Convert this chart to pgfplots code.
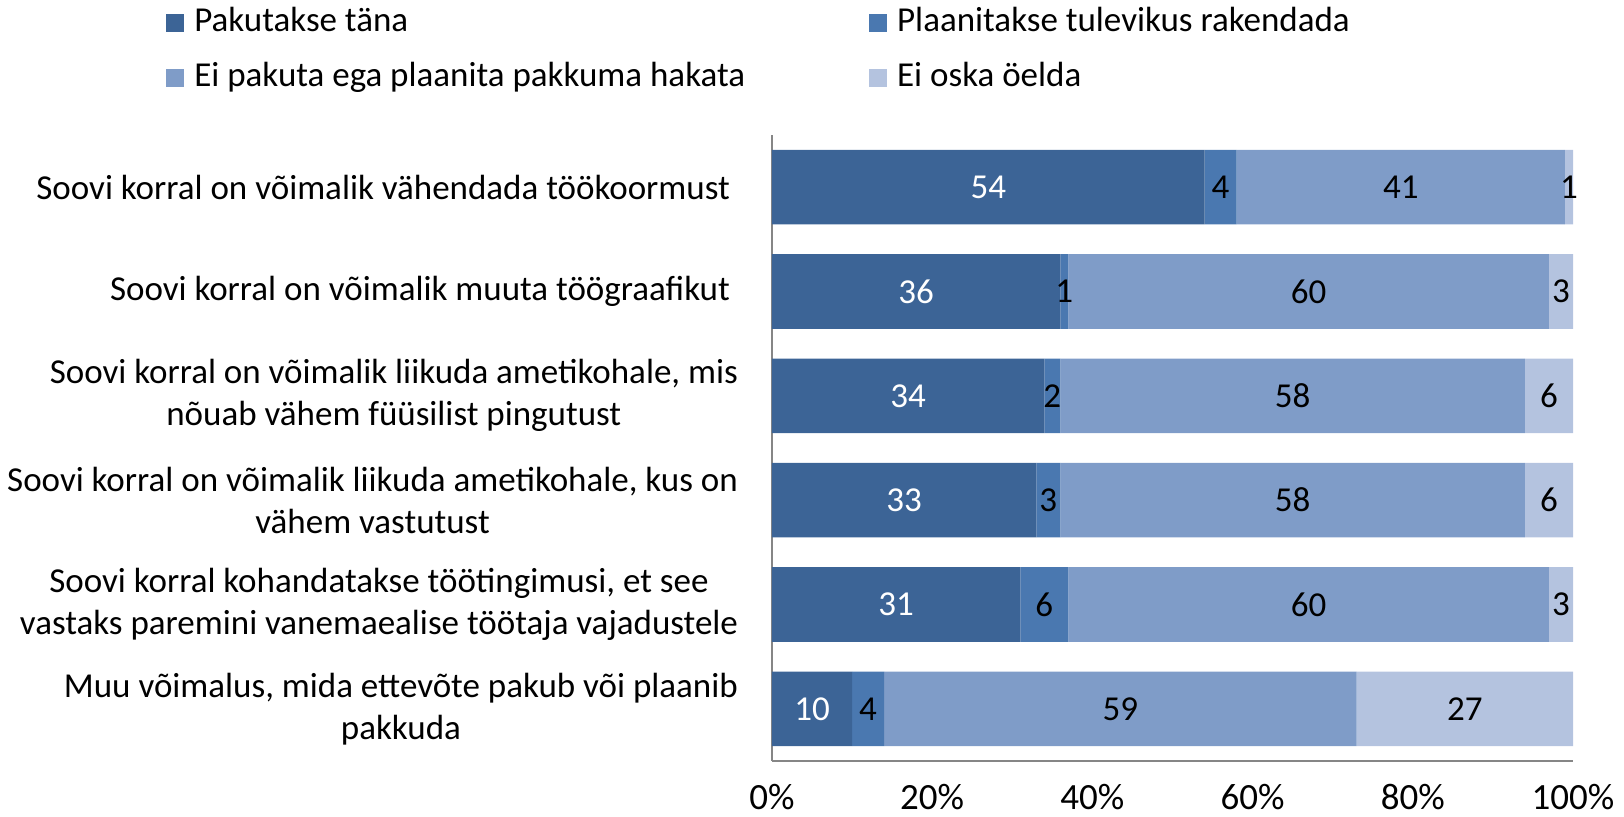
\documentclass[border=0pt]{standalone}
\usepackage{pgfplots}
\pgfplotsset{compat=1.18}
\usepackage{pgfplotstable}
\usepackage{fontspec}
\setmainfont{Carlito}
\definecolor{s1}{HTML}{3C6496}
\definecolor{s2}{HTML}{4A78B0}
\definecolor{s3}{HTML}{7F9CC8}
\definecolor{s4}{HTML}{B4C3DF}
\definecolor{axgray}{HTML}{868686}

\pgfplotstableread{
y a b c d
0 54 4 41 1
1 36 1 60 3
2 34 2 58 6
3 33 3 58 6
4 31 6 60 3
5 10 4 59 27
}\data

\begin{document}
\fontsize{17.5}{21}\selectfont
\begin{tikzpicture}
\useasboundingbox (0,0) rectangle (812pt,408.5pt);
\begin{axis}[
  at={(386pt,28pt)}, anchor=south west,
  scale only axis, width=400.5pt, height=313pt,
  xbar stacked, bar width=37.3pt,
  every axis plot/.append style={draw=none,
    legend image code/.code={\fill[##1] (0pt,-4.5pt) rectangle (9pt,4.5pt);}},
  xmin=0, xmax=100, ymin=-0.5, ymax=5.5, y dir=reverse,
  axis x line*=bottom, axis y line*=left,
  axis line style={axgray, line width=1pt, -},
  /pgf/number format/assume math mode=true,
  xtick={0,20,...,100},
  xticklabel={\pgfmathprintnumber{\tick}\%},
  xticklabel style={yshift=-5.5pt, font=\fontsize{18.5}{22}\selectfont},
  major tick length=0pt,
  ytick={0,...,5},
  yticklabels={
    {Soovi korral on võimalik vähendada töökoormust\hspace*{4pt}},
    {Soovi korral on võimalik muuta töögraafikut\hspace*{4pt}},
    {Soovi korral on võimalik liikuda ametikohale, mis\\nõuab vähem füüsilist pingutust},
    {Soovi korral on võimalik liikuda ametikohale, kus on\\vähem vastutust},
    {Soovi korral kohandatakse töötingimusi, et see\\vastaks paremini vanemaealise töötaja vajadustele},
    {Muu võimalus, mida ettevõte pakub või plaanib\\pakkuda}
  },
  yticklabel style={align=center, xshift=-11pt},
  nodes near coords={\pgfmathprintnumber{\pgfplotspointmeta}},
  point meta=explicit,
  every node near coord/.append style={anchor=center, text=black},
  legend columns=2,
  legend cell align=left,
  legend style={at={(-0.7566,1.205)}, anchor=north west, draw=none, fill=none,
    inner sep=0pt, row sep=12.2pt,
    nodes={inner xsep=5pt, inner ysep=0pt, text height=12pt, text depth=3.5pt},
    /tikz/column 2/.style={column sep=57pt}},
]
\addplot[fill=s1, every node near coord/.append style={text=white}]
  table[x=a, y=y, meta=a] {\data};
\addlegendentry{Pakutakse täna}
\addplot[fill=s2]
  table[x=b, y=y, meta=b] {\data};
\addlegendentry{Plaanitakse tulevikus rakendada}
\addplot[fill=s3]
  table[x=c, y=y, meta=c] {\data};
\addlegendentry{Ei pakuta ega plaanita pakkuma hakata}
\addplot[fill=s4]
  table[x=d, y=y, meta=d] {\data};
\addlegendentry{Ei oska öelda}
\end{axis}
\end{tikzpicture}
\end{document}
